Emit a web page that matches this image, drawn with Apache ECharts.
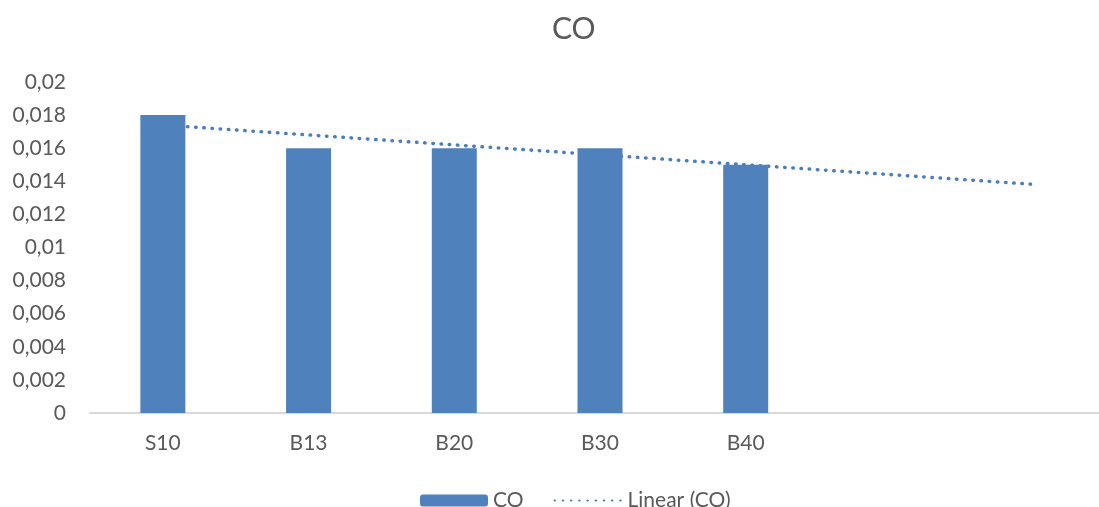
<!DOCTYPE html>
<html>
<head>
<meta charset="utf-8">
<script src="https://cdn.jsdelivr.net/npm/echarts@6/dist/echarts.min.js"></script>
<style>html,body{margin:0;padding:0;background:#fff;}#c{width:1099px;height:507px;}</style>
</head>
<body>
<div id="c"></div>
<script>
// Categories (two trailing empty slots hold the forward trendline forecast)
const categories = ['S10', 'B13', 'B20', 'B30', 'B40', '', ''];
// CO values
const coValues = [0.018, 0.016, 0.016, 0.016, 0.015];
// Linear (CO) trendline: value at first and last category
const trendValues = [0.0174, null, null, null, null, null, 0.0138];
const yTicks = { min: 0, max: 0.02, interval: 0.002 };

const font = 'Lato, "Open Sans", sans-serif';
const txt = '#595959';
const chart = echarts.init(document.getElementById('c'));
chart.setOption({
  animation: false,
  backgroundColor: '#fff',
  title: {
    text: 'CO', left: 547, top: 9,
    textStyle: { fontFamily: font, fontSize: 30, fontWeight: 'normal', color: txt }
  },
  grid: { left: 90, top: 82, width: 1020, height: 331, containLabel: false, outerBoundsMode: 'none' },
  xAxis: {
    type: 'category', data: categories,
    axisLine: { lineStyle: { color: '#d9d9d9', width: 2 } },
    axisTick: { show: false },
    axisLabel: { margin: 20, fontFamily: font, fontSize: 21, color: txt }
  },
  yAxis: {
    type: 'value', min: yTicks.min, max: yTicks.max, interval: yTicks.interval,
    splitLine: { show: false },
    axisLine: { show: false }, axisTick: { show: false },
    axisLabel: {
      margin: 24, fontFamily: font, fontSize: 21, color: txt,
      formatter: v => String(+v.toFixed(4)).replace('.', ',')
    }
  },
  legend: {
    left: 415, top: 485, itemWidth: 68, itemHeight: 12, itemGap: 30,
    textStyle: { fontFamily: font, fontSize: 21, color: txt },
    data: ['CO', { name: 'Linear (CO)', itemStyle: { opacity: 0 } }]
  },
  series: [
    {
      name: 'Linear (CO)', type: 'line', data: trendValues, connectNulls: true,
      symbol: 'none', z: 1,
      lineStyle: { color: '#4a7ebb', width: 3.5, type: [0.5, 7.7], cap: 'round' },
      itemStyle: { color: '#4a7ebb' }
    },
    {
      name: 'CO', type: 'bar', data: coValues, barWidth: 45, z: 3,
      itemStyle: { color: '#4f81bd' }
    }
  ]
});
</script>
</body>
</html>
